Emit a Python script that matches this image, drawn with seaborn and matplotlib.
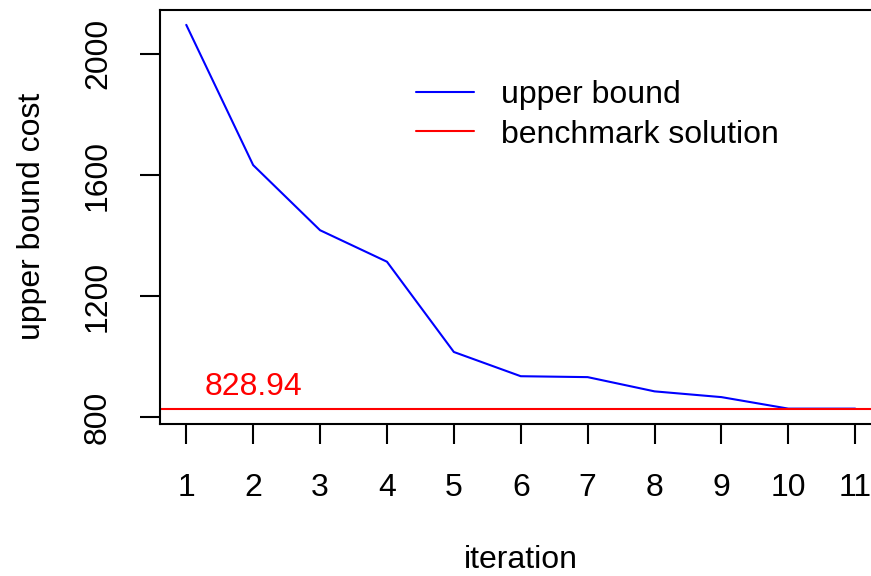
import matplotlib
matplotlib.use("Agg")
import matplotlib.pyplot as plt
import seaborn as sns
import pandas as pd

iterations = [1, 2, 3, 4, 5, 6, 7, 8, 9, 10, 11]
upper_bound = [2096, 1633, 1418, 1314, 1016, 936, 933, 886, 867, 829, 829]
benchmark = 828.94
x_ticks = [1, 2, 3, 4, 5, 6, 7, 8, 9, 10, 11]
y_ticks = [800, 1200, 1600, 2000]

sns.set_theme(style="white")
plt.rcParams['font.family'] = ['Liberation Sans', 'DejaVu Sans']
plt.rcParams['text.color'] = 'black'
plt.rcParams['axes.labelcolor'] = 'black'
plt.rcParams['xtick.color'] = 'black'
plt.rcParams['ytick.color'] = 'black'

FS = 23
fig = plt.figure(figsize=(8.71, 5.76), dpi=100)
ax = fig.add_axes([159.5 / 871, 1 - 424 / 576, (882 - 159.5) / 871, (424 - 9.5) / 576])

df = pd.DataFrame({"iteration": iterations, "cost": upper_bound})
sns.lineplot(data=df, x="iteration", y="cost", ax=ax, color="#0000FF",
             linewidth=1.5, label="upper bound")
ax.axhline(benchmark, color="#FF0000", linewidth=1.5, label="benchmark solution")
ax.text(2, 900, f"{benchmark:.2f}", color="#FF0000", fontsize=FS,
        ha="center", va="center")

rng = max(upper_bound) - min(min(upper_bound), benchmark)
lo = min(min(upper_bound), benchmark)
ax.set_xlim(1 - 0.4, 11 + 0.4)
ax.set_ylim(lo - 0.04 * rng, max(upper_bound) + 0.04 * rng)

ax.set_xticks(x_ticks)
ax.set_xticklabels([str(t) for t in x_ticks], fontsize=FS)
ax.set_yticks(y_ticks)
ax.set_yticklabels([str(t) for t in y_ticks], fontsize=FS, rotation=90, va="center")
ax.tick_params(axis="both", direction="out", length=14.4, width=1.5, color="black",
               labelcolor="black", bottom=True, left=True)
ax.tick_params(axis="x", pad=21)
ax.tick_params(axis="y", pad=19)

for s in ax.spines.values():
    s.set_visible(True)
    s.set_color("black")
    s.set_linewidth(1.5)

ax.set_xlabel("iteration", fontsize=FS, labelpad=30, color="black")
ax.set_ylabel("upper bound cost", fontsize=FS, labelpad=26, color="black")

leg = ax.legend(loc="upper left", bbox_to_anchor=(416 / 871, 1 - 80 / 576),
                bbox_transform=fig.transFigure, frameon=False, fontsize=FS,
                handlelength=1.8, handletextpad=0.87, borderpad=0,
                borderaxespad=0, labelspacing=0.3)
for t in leg.get_texts():
    t.set_color("black")

fig.savefig("out.png", dpi=100)
